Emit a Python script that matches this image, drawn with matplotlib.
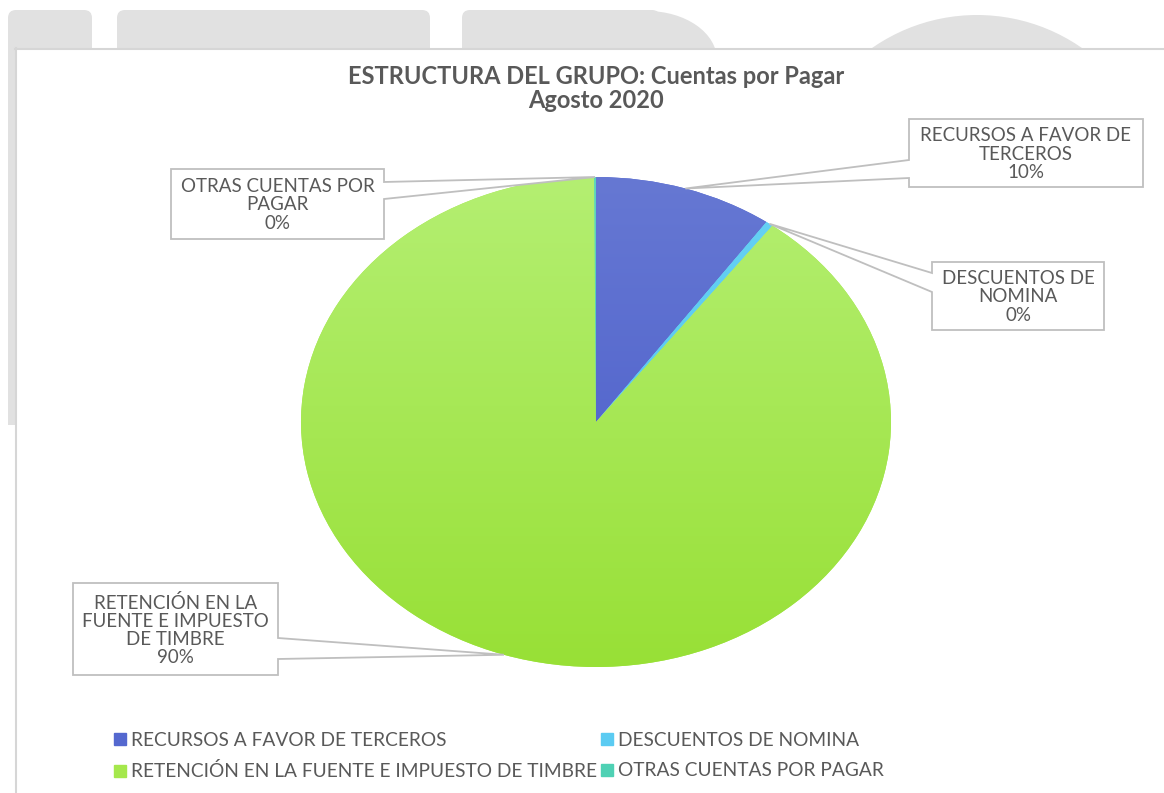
import numpy as np
import matplotlib.pyplot as plt
from matplotlib.patches import Polygon, FancyBboxPatch, Rectangle, Patch, Ellipse, Circle
from matplotlib.colors import to_rgb

# Datos del gráfico
categorias = [
    "RECURSOS A FAVOR DE TERCEROS",
    "DESCUENTOS DE NOMINA",
    "RETENCIÓN EN LA FUENTE E IMPUESTO DE TIMBRE",
    "OTRAS CUENTAS POR PAGAR",
]
etiquetas = [
    "RECURSOS A FAVOR DE\nTERCEROS",
    "DESCUENTOS DE\nNOMINA",
    "RETENCIÓN EN LA\nFUENTE E IMPUESTO\nDE TIMBRE",
    "OTRAS CUENTAS POR\nPAGAR",
]
valores = [9.8, 0.4, 89.7, 0.1]
colores = ["#5468CF", "#5BCBF2", "#A5E84C", "#4FD1B4"]
colores_claros = ["#6678D3", "#66D2F4", "#B4EF72", "#5BD7BC"]
colores_oscuros = ["#4659C9", "#4EC2EC", "#98E036", "#45C8AA"]

W, H = 1164, 793
TXT = "#595959"
FONT = "Lato"

fig = plt.figure(figsize=(W / 100, H / 100), dpi=100, facecolor="white")

# background decorations (screenshot frame)
bg = fig.add_axes([0, 0, 1, 1], zorder=-2)
bg.set_xlim(0, W)
bg.set_ylim(H, 0)
bg.axis("off")
gris = "#E1E1E1"
for x0, x1 in [(8, 92), (117, 430), (462, 660)]:
    bg.add_patch(FancyBboxPatch((x0 + 8, 18), x1 - x0 - 16, 40,
                                boxstyle="round,pad=8", fc=gris, ec="none"))
bg.add_patch(Ellipse((647, 60), 140, 98, fc=gris, ec="none"))
bg.add_patch(Circle((977, 198.5), 183.5, fc=gris, ec="none"))
bg.add_patch(Rectangle((8, 48), 8, 377, fc=gris, ec="none"))
bg.add_patch(Rectangle((15, 48), W - 15, H - 48, fc="white", ec="none"))
bg.plot([15, W], [48.5, 48.5], color="#D6D6D6", lw=1.5)
bg.plot([15.5, 15.5], [48, H], color="#D6D6D6", lw=1.5)

# pie (elliptical, like the original)
cx, cy, rx, ry = 596, 422, 295, 245
ax = fig.add_axes([(cx - rx * 1.1) / W, (H - cy - ry * 1.1) / H,
                   rx * 2.2 / W, ry * 2.2 / H])
wedges, _ = ax.pie(valores, colors=colores, startangle=90, counterclock=False,
                   wedgeprops=dict(linewidth=0))
ax.set_aspect("auto")
ax.set_xlim(-1.1, 1.1)
ax.set_ylim(-1.1, 1.1)
ax.axis("off")

# vertical gradient inside each wedge
t = np.linspace(0, 1, 256)[:, None]
for w, c1, c2 in zip(wedges, colores_claros, colores_oscuros):
    a, b = np.array(to_rgb(c1)), np.array(to_rgb(c2))
    grad = (a[None, None, :] * (1 - t[..., None]) + b[None, None, :] * t[..., None])
    grad = np.repeat(grad, 2, axis=1)
    im = ax.imshow(grad, extent=(-1, 1, -1, 1), origin="upper", aspect="auto", zorder=2)
    im.set_clip_path(w)

# callouts
fg = fig.add_axes([0, 0, 1, 1], zorder=5)
fg.set_xlim(0, W)
fg.set_ylim(H, 0)
fg.axis("off")
fg.patch.set_alpha(0)

# box (x0, y0, x1, y1), pointer side, pointer y positions
cajas = [
    ((909, 119, 1143, 187), "left", (160, 178)),
    ((932, 262, 1104, 330), "left", (273, 292)),
    ((73, 583, 278, 675), "right", (638, 659)),
    ((171, 169, 384, 239), "right", (182, 199)),
]
total = sum(valores)
for w, lab, v, (box, side, (p1, p2)) in zip(wedges, etiquetas, valores, cajas):
    ang = np.deg2rad((w.theta1 + w.theta2) / 2)
    px, py = ax.transData.transform((np.cos(ang), np.sin(ang)))
    tip = (px, H - py)
    x0, y0, x1, y1 = box
    if side == "left":
        pts = [(x0, y0), (x1, y0), (x1, y1), (x0, y1), (x0, p2), tip, (x0, p1)]
    else:
        pts = [(x0, y0), (x1, y0), (x1, p1), tip, (x1, p2), (x1, y1), (x0, y1)]
    fg.add_patch(Polygon(pts, closed=True, fc="white", ec="#BFBFBF", lw=1.3))
    fg.text((x0 + x1) / 2, (y0 + y1) / 2 + 1, f"{lab}\n{v / total * 100:.0f}%",
            ha="center", va="center", fontsize=13.5, color=TXT, family=FONT,
            linespacing=1.08)

# title
fig.text(596 / W, 1 - 77 / H, "ESTRUCTURA DEL GRUPO: Cuentas por Pagar",
         ha="center", va="center", fontsize=17, fontweight="bold", color=TXT, family=FONT)
fig.text(596 / W, 1 - 101 / H, "Agosto 2020",
         ha="center", va="center", fontsize=17, fontweight="bold", color=TXT, family=FONT)

# legend (row-wise order)
handles = [Patch(color=c, label=l) for c, l in zip(colores, categorias)]
orden = [0, 2, 1, 3]
fig.legend([handles[i] for i in orden], [categorias[i] for i in orden],
           loc="upper left", bbox_to_anchor=(114 / W, 1 - 732 / H), ncol=2,
           frameon=False, prop=dict(family=FONT, size=13.8), labelcolor=TXT,
           handlelength=0.6, handleheight=0.6, handletextpad=0.3,
           columnspacing=0.2, labelspacing=0.7, borderpad=0, borderaxespad=0)

fig.savefig("out.png", dpi=100, facecolor="white")
